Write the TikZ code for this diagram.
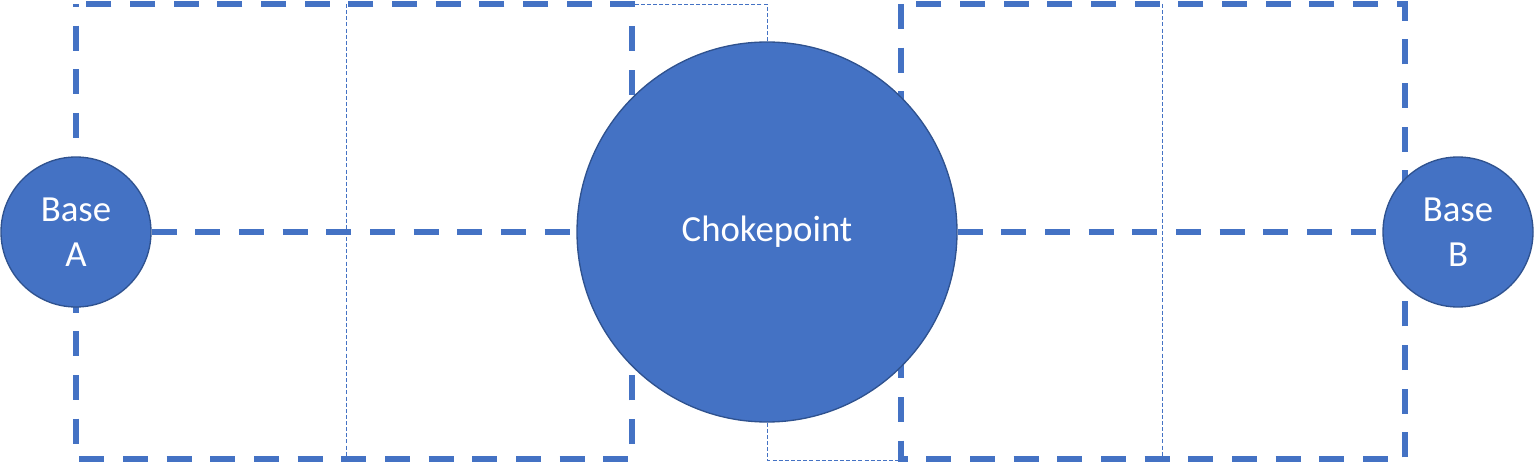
\documentclass[tikz,border=0pt]{standalone}
\usepackage{fontspec}
\setmainfont{Carlito}
\usetikzlibrary{backgrounds}
\definecolor{zoneblue}{HTML}{4472C4}
\definecolor{rimblue}{HTML}{2F528F}

\begin{document}
\begin{tikzpicture}[x=0.75pt,y=-0.75pt,
  site/.style={circle,fill=zoneblue,draw=rimblue,line width=1pt,inner sep=0pt,
    text=white,align=center,font=\fontsize{27.6}{33.75}\selectfont},
  base/.style={site,minimum size=112.5pt},
  choke/.style={site,minimum size=285pt},
  bigdash/.style={draw=zoneblue,line width=4pt,dash pattern=on 18.75pt off 14pt},
  thindash/.style={draw=zoneblue,line width=0.7pt,dash pattern=on 3pt off 1.6pt}]
  \useasboundingbox (0,0) rectangle (1534,463);
  % sites
  \node[base] (a) at (76,232) {Base\\A};
  \node[choke] (c) at (767,232) {Chokepoint};
  \node[base] (b) at (1458,232) {Base\\B};
  \begin{scope}[on background layer]
    % zones around each side
    \draw[bigdash,dash phase=16.5pt] (76,4) rectangle (632,459);
    \draw[bigdash] (901,4) rectangle (1405,459);
    % thin split lines
    \draw[thindash] (346,4) -- (346,459);
    \draw[thindash] (1162,4) -- (1162,459);
    \draw[thindash] (c.north) -- (767,4) -- (632,4);
    \draw[thindash] (c.south) -- (767,460) -- (901,460);
    % routes to the chokepoint
    \draw[bigdash] (a) -- (c);
    \draw[bigdash] (c) -- (b);
  \end{scope}
\end{tikzpicture}
\end{document}
